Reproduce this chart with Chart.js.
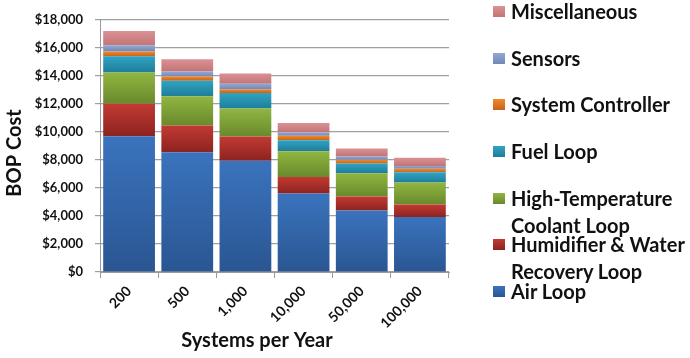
<!DOCTYPE html>
<html>
<head>
<meta charset="utf-8">
<script src="https://cdn.jsdelivr.net/npm/chart.js@4/dist/chart.umd.min.js"></script>
<style>
  html, body { margin: 0; padding: 0; background: #ffffff; }
  #wrap { position: relative; width: 690px; height: 358px; overflow: hidden; }
  #c { position: absolute; left: 0; top: 0; }
  .lg { position: absolute; left: 493px; font-family: Lato, "Open Sans", sans-serif; font-weight: 700; font-size: 20px; line-height: 27px; color: #111; }
  .lg .key { position: absolute; left: 0; top: 8px; width: 12px; height: 11px; }
  .lg .txt { position: absolute; left: 18px; top: 0; width: 182px; white-space: normal; }
</style>
</head>
<body>
<div id="wrap">
  <canvas id="c" width="690" height="358"></canvas>
</div>
<script>
// ---- data ----
const categories = ['200', '500', '1,000', '10,000', '50,000', '100,000'];
const airLoop     = [9690, 8550, 7945, 5594, 4386, 3918];
const humidifier  = [2310, 1907, 1725, 1189, 1009, 897];
const htCoolant   = [2240, 2082, 1996, 1833, 1657, 1565];
const fuelLoop    = [1160, 1114, 1114, 786, 691, 739];
const controller  = [335, 296, 269, 316, 269, 248];
const sensors     = [450, 356, 383, 242, 248, 202];
const misc        = [1010, 873, 739, 672, 558, 577];
const seriesNames = ['Air Loop', 'Humidifier & Water Recovery Loop', 'High-Temperature Coolant Loop',
                     'Fuel Loop', 'System Controller', 'Sensors', 'Miscellaneous'];
const yMax = 18000;
const yStep = 2000;
const xTitle = 'Systems per Year';
const yTitle = 'BOP Cost';

// ---- styling ----
const seriesList = [airLoop, humidifier, htCoolant, fuelLoop, controller, sensors, misc];
const colorPairs = [
  ['#3a73bd', '#2a5692'],
  ['#c23a33', '#8c2320'],
  ['#91b641', '#69892c'],
  ['#2fa4c4', '#1f7d98'],
  ['#f08b2b', '#c8621a'],
  ['#93a8d4', '#7088b8'],
  ['#da9294', '#c27476']
];

function gradFor(si) {
  return function (ctx) {
    const chart = ctx.chart;
    const [top, bot] = colorPairs[si];
    if (ctx.type !== 'data' || !chart.chartArea || !chart.scales.y) return top;
    const ys = chart.scales.y;
    let start = 0;
    for (let k = 0; k < si; k++) start += seriesList[k][ctx.dataIndex];
    const end = start + seriesList[si][ctx.dataIndex];
    const p0 = ys.getPixelForValue(end), p1 = ys.getPixelForValue(start);
    if (!isFinite(p0) || !isFinite(p1) || p0 === p1) return top;
    const g = chart.ctx.createLinearGradient(0, p0, 0, p1);
    g.addColorStop(0, top);
    g.addColorStop(1, bot);
    return g;
  };
}

const datasets = seriesList.map((arr, i) => ({
  label: seriesNames[i],
  data: arr,
  backgroundColor: gradFor(i),
  borderWidth: 0,
  categoryPercentage: 1.0,
  barPercentage: 0.89
}));

const titlesPlugin = {
  id: 'titles',
  afterDraw(chart) {
    const ctx = chart.ctx;
    ctx.save();
    ctx.fillStyle = '#111';
    ctx.font = '700 20px Lato, "Open Sans", sans-serif';
    ctx.textAlign = 'center';
    ctx.textBaseline = 'middle';
    ctx.fillText(xTitle, 257, 341);
    ctx.translate(15, 153);
    ctx.rotate(-Math.PI / 2);
    ctx.fillText(yTitle, 0, 0);
    ctx.restore();
  }
};

const yTickFont = { family: 'Lato, "Open Sans", sans-serif', size: 13, weight: '700' };
const xTickFont = { family: 'Lato, "Open Sans", sans-serif', size: 14, weight: '700' };

new Chart(document.getElementById('c'), {
  type: 'bar',
  data: { labels: categories, datasets },
  options: {
    responsive: false,
    animation: false,
    devicePixelRatio: 1,
    layout: { padding: { top: 4, right: 241, left: 0, bottom: 0 } },
    plugins: { legend: { display: false }, tooltip: { enabled: false } },
    scales: {
      x: {
        stacked: true,
        grid: { display: true, drawOnChartArea: false, drawTicks: true, tickLength: 6, color: '#9a9a9a', offset: true },
        border: { display: true, color: '#9a9a9a' },
        ticks: { color: '#111', font: xTickFont, maxRotation: 45, minRotation: 45, padding: 5 },
        afterFit(scale) { scale.height = 86; }
      },
      y: {
        stacked: true,
        min: 0,
        max: yMax,
        grid: { color: '#a0a0a0', lineWidth: 1.2, drawTicks: true, tickLength: 5 },
        border: { display: true, color: '#9a9a9a' },
        ticks: {
          stepSize: yStep,
          color: '#111',
          font: yTickFont,
          padding: 12,
          callback: v => '$' + Number(v).toLocaleString('en-US')
        },
        afterFit(scale) { scale.width = 100; }
      }
    }
  },
  plugins: [titlesPlugin]
});

// ---- HTML legend (reverse order, top = Miscellaneous) ----
const wrap = document.getElementById('wrap');
const legendOrder = [6, 5, 4, 3, 2, 1, 0];
legendOrder.forEach((si, row) => {
  const item = document.createElement('div');
  item.className = 'lg';
  item.style.top = (-2 + row * 46.65) + 'px';
  const key = document.createElement('div');
  key.className = 'key';
  key.style.background = 'linear-gradient(' + colorPairs[si][0] + ',' + colorPairs[si][1] + ')';
  const txt = document.createElement('div');
  txt.className = 'txt';
  txt.textContent = seriesNames[si];
  item.appendChild(key);
  item.appendChild(txt);
  wrap.appendChild(item);
});
</script>
</body>
</html>
